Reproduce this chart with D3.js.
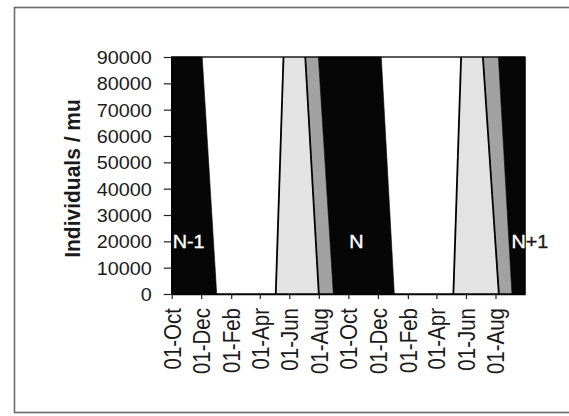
<!DOCTYPE html>
<html>
<head>
<meta charset="utf-8">
<script src="https://cdn.jsdelivr.net/npm/d3@7"></script>
<style>
  body { margin: 0; background: #fff; }
  text { font-family: "Liberation Sans", Arial, Helvetica, sans-serif; }
</style>
</head>
<body>
<svg id="chart" width="569" height="416"></svg>
<script>
// Stage boundaries: date where each boundary meets the top (90000) and the bottom (0) of the axis
const boundaryTop    = ["2001-10-01", "2001-12-03", "2002-05-20", "2002-07-04", "2002-07-31",
                        "2002-12-08", "2003-05-22", "2003-07-06", "2003-08-07", "2003-10-01"];
const boundaryBottom = ["2001-10-01", "2002-01-02", "2002-05-04", "2002-08-01", "2002-08-31",
                        "2003-01-04", "2003-05-06", "2003-08-08", "2003-09-04", "2003-10-01"];
// Shade of the band lying between boundary i and boundary i+1
const bandShade = ["dark", "none", "light", "mid", "dark", "none", "light", "mid", "dark"];
// Boundaries drawn with a black edge line
const outlinedBoundary = [false, false, true, true, false, false, true, true, false, false];

const yTicks = [0, 10000, 20000, 30000, 40000, 50000, 60000, 70000, 80000, 90000];
const xTickDates = ["2001-10-01", "2001-12-01", "2002-02-01", "2002-04-01", "2002-06-01", "2002-08-01",
                    "2002-10-01", "2002-12-01", "2003-02-01", "2003-04-01", "2003-06-01", "2003-08-01"];

const generationLabels = ["N-1", "N", "N+1"];
const generationLabelDates = ["2001-10-01", "2002-10-01", "2003-09-01"];
const generationLabelValue = 20000;

const yMax = 90000;
const parse = d3.utcParse("%Y-%m-%d");

const shadeColor = { dark: "#060606", light: "#e3e3e3", mid: "#a2a2a2", none: "none" };
const textColor = "#1a1a1a";

const svg = d3.select("#chart");
const plot = { left: 171.7, right: 525, top: 57, bottom: 294 };

// outer frame
svg.append("rect")
  .attr("x", 14.5).attr("y", 7.5)
  .attr("width", 600).attr("height", 405)
  .attr("fill", "#fff").attr("stroke", "#6a6a6a").attr("stroke-width", 1.6);

const x = d3.scaleUtc()
  .domain([parse("2001-10-01"), parse("2003-10-01")])
  .range([plot.left, plot.right]);
const y = d3.scaleLinear()
  .domain([0, yMax])
  .range([plot.bottom, plot.top]);

const tops = boundaryTop.map(parse);
const bottoms = boundaryBottom.map(parse);

// bands
const bands = bandShade.map((shade, i) => ({
  shade,
  pts: [[tops[i], yMax], [tops[i + 1], yMax], [bottoms[i + 1], 0], [bottoms[i], 0]]
}));
const line = d3.line().x(d => x(d[0])).y(d => y(d[1]));

svg.append("g").selectAll("path")
  .data(bands.filter(b => b.shade !== "none"))
  .join("path")
  .attr("d", b => line(b.pts) + "Z")
  .attr("fill", b => shadeColor[b.shade])
  .attr("stroke", b => shadeColor[b.shade])
  .attr("stroke-width", 0.6);

// clip region made of the dark bands, for the light label lettering
svg.append("defs").append("clipPath").attr("id", "darkBands")
  .selectAll("path")
  .data(bands.filter(b => b.shade === "dark"))
  .join("path")
  .attr("d", b => line(b.pts) + "Z");

// edge lines
svg.append("g").selectAll("path")
  .data(tops.map((t, i) => ({ t, b: bottoms[i], on: outlinedBoundary[i] })).filter(d => d.on))
  .join("path")
  .attr("d", d => line([[d.t, yMax], [d.b, 0]]))
  .attr("stroke", "#000").attr("stroke-width", 1.8).attr("fill", "none");

// plot area border
svg.append("rect")
  .attr("x", plot.left).attr("y", plot.top)
  .attr("width", plot.right - plot.left).attr("height", plot.bottom - plot.top)
  .attr("fill", "none").attr("stroke", "#000").attr("stroke-width", 1.3);

// y axis
const yAxis = svg.append("g")
  .attr("transform", `translate(${plot.left},0)`)
  .call(d3.axisLeft(y).tickValues(yTicks).tickFormat(d3.format("d")).tickSize(8).tickSizeOuter(0));
yAxis.select(".domain").remove();
yAxis.selectAll("line").attr("stroke", "#222").attr("stroke-width", 1.2);
yAxis.selectAll("text")
  .attr("x", 0).attr("dy", "0.36em")
  .attr("transform", "translate(-20,0) scale(1.1,1)")
  .style("font-size", "18px").style("fill", textColor);

// x axis
const xAxis = svg.append("g")
  .attr("transform", `translate(0,${plot.bottom})`)
  .call(d3.axisBottom(x).tickValues(xTickDates.map(parse)).tickFormat(d3.utcFormat("%d-%b")).tickSize(5).tickSizeOuter(0));
xAxis.select(".domain").attr("stroke", "#000").attr("stroke-width", 1.3);
xAxis.selectAll("line").attr("stroke", "#222").attr("stroke-width", 1.2);
xAxis.selectAll("text")
  .attr("x", 0).attr("y", 0).attr("dy", "0.36em")
  .attr("text-anchor", "end")
  .attr("transform", "translate(0,14) rotate(-90) scale(1,1.15)")
  .style("font-size", "20.5px").style("fill", textColor);

// y axis title
svg.append("text")
  .attr("transform", "translate(71.5,178.5) rotate(-90) scale(1,1.08)")
  .attr("text-anchor", "middle").attr("dy", "0.36em")
  .style("font-size", "21px").style("font-weight", "bold").style("fill", textColor)
  .text("Individuals / mu");

// generation labels: dark lettering, with a white copy shown over the dark bands
function drawGenerationLabels(layer, color) {
  layer.selectAll("text")
    .data(generationLabels)
    .join("text")
    .attr("transform", (d, i) => `translate(${x(parse(generationLabelDates[i])) + 1},${y(generationLabelValue)}) scale(1.1,1)`)
    .attr("dy", "0.36em")
    .style("font-size", "18px")
    .style("fill", color)
    .style("stroke", color).style("stroke-width", 0.35)
    .text(d => d);
}
drawGenerationLabels(svg.append("g"), textColor);
drawGenerationLabels(svg.append("g").attr("clip-path", "url(#darkBands)"), "#fff");
</script>
</body>
</html>
